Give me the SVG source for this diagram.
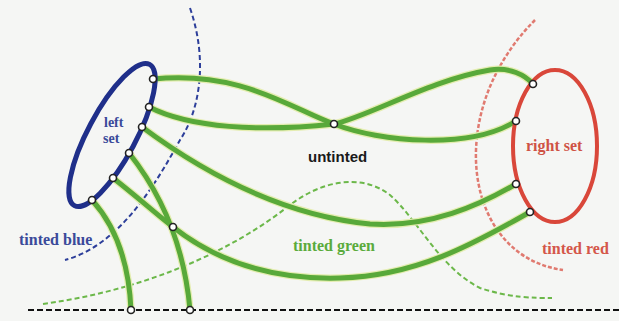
<svg xmlns="http://www.w3.org/2000/svg" width="619" height="321" viewBox="0 0 619 321">
<style>
.halo{fill:none;stroke:#e4edb0;stroke-width:7.5;stroke-linecap:round}
.edge{fill:none;stroke:#58a93a;stroke-width:5;stroke-linecap:round}
.pt{fill:#fff;stroke:#222;stroke-width:1.6}
.lbl{font-family:"Liberation Serif",serif;font-size:16px;font-weight:bold}
.sm{font-size:14px}
</style>
<rect width="619" height="321" fill="#f5f6f4"/>
<g id="regions">
<path id="tinted-blue-boundary" d="M190,8 C208,60 200,110 180,140 C155,185 120,245 65,260" fill="none" stroke="#2d3f9a" stroke-width="2" stroke-dasharray="5 3"/>
<path id="tinted-red-boundary" d="M535,20 C505,50 478,95 476,150 C474,210 505,262 563,270" fill="none" stroke="#e07a70" stroke-width="2.5" stroke-dasharray="4 2"/>
<path id="tinted-green-boundary" d="M43,304 C130,292 220,260 290,205 C320,182 360,172 390,195 C418,220 440,268 480,288 C510,298 535,298 552,298" fill="none" stroke="#6cb84a" stroke-width="2" stroke-dasharray="5 3"/>
<line id="baseline" x1="28" y1="310" x2="619" y2="310" stroke="#111" stroke-width="2" stroke-dasharray="6 3"/>
</g>
<g id="connectors">
<g class="halo">
<path d="M153,79 C240,70 290,108 334,124 C380,142 470,150 516,121"/>
<path d="M149,107 C190,128 260,132 334,124 C370,116 430,80 490,70 C510,67 525,75 533,84"/>
<path d="M142,127 C200,170 280,215 370,224 C430,228 480,205 516,184"/>
<path d="M129,153 Q182,220 190,310"/>
<path d="M113,178 C135,195 155,213 173,227 C215,260 270,280 340,278 C420,276 480,240 530,212"/>
<path d="M92,200 Q128,240 131,310"/>
</g>
<g class="edge">
<path d="M153,79 C240,70 290,108 334,124 C380,142 470,150 516,121"/>
<path d="M149,107 C190,128 260,132 334,124 C370,116 430,80 490,70 C510,67 525,75 533,84"/>
<path d="M142,127 C200,170 280,215 370,224 C430,228 480,205 516,184"/>
<path d="M129,153 Q182,220 190,310"/>
<path d="M113,178 C135,195 155,213 173,227 C215,260 270,280 340,278 C420,276 480,240 530,212"/>
<path d="M92,200 Q128,240 131,310"/>
</g>
</g>
<g id="left-set">
<ellipse cx="112" cy="135" rx="80" ry="24" transform="rotate(-62 112 135)" fill="none" stroke="#1f2f8a" stroke-width="5"/>
<text class="lbl sm" x="104" y="127" fill="#3a4a9a">left</text>
<text class="lbl sm" x="103" y="143" fill="#3a4a9a">set</text>
</g>
<g id="right-set">
<ellipse cx="555" cy="146" rx="42" ry="76" fill="none" stroke="#d9473a" stroke-width="4"/>
<text class="lbl" x="526" y="151" fill="#cf5245">right set</text>
</g>
<g id="points">
<circle class="pt" cx="153" cy="79" r="3.5"/>
<circle class="pt" cx="149" cy="107" r="3.5"/>
<circle class="pt" cx="142" cy="127" r="3.5"/>
<circle class="pt" cx="129" cy="153" r="3.5"/>
<circle class="pt" cx="113" cy="178" r="3.5"/>
<circle class="pt" cx="92" cy="200" r="3.5"/>
<circle class="pt" cx="334" cy="124" r="3.5"/>
<circle class="pt" cx="173" cy="227" r="3.5"/>
<circle class="pt" cx="131" cy="310" r="3.5"/>
<circle class="pt" cx="190" cy="310" r="3.5"/>
<circle class="pt" cx="533" cy="84" r="3.5"/>
<circle class="pt" cx="516" cy="121" r="3.5"/>
<circle class="pt" cx="516" cy="184" r="3.5"/>
<circle class="pt" cx="530" cy="212" r="3.5"/>
</g>
<g id="labels">
<text x="308" y="162" font-family="Liberation Sans, sans-serif" font-size="15" font-weight="bold" fill="#1a1a1a">untinted</text>
<text class="lbl" x="19" y="245" fill="#3a4a9a">tinted blue</text>
<text class="lbl" x="293" y="251" fill="#5aab3c">tinted green</text>
<text class="lbl" x="542" y="254" fill="#d4574a">tinted red</text>
</g>
</svg>
